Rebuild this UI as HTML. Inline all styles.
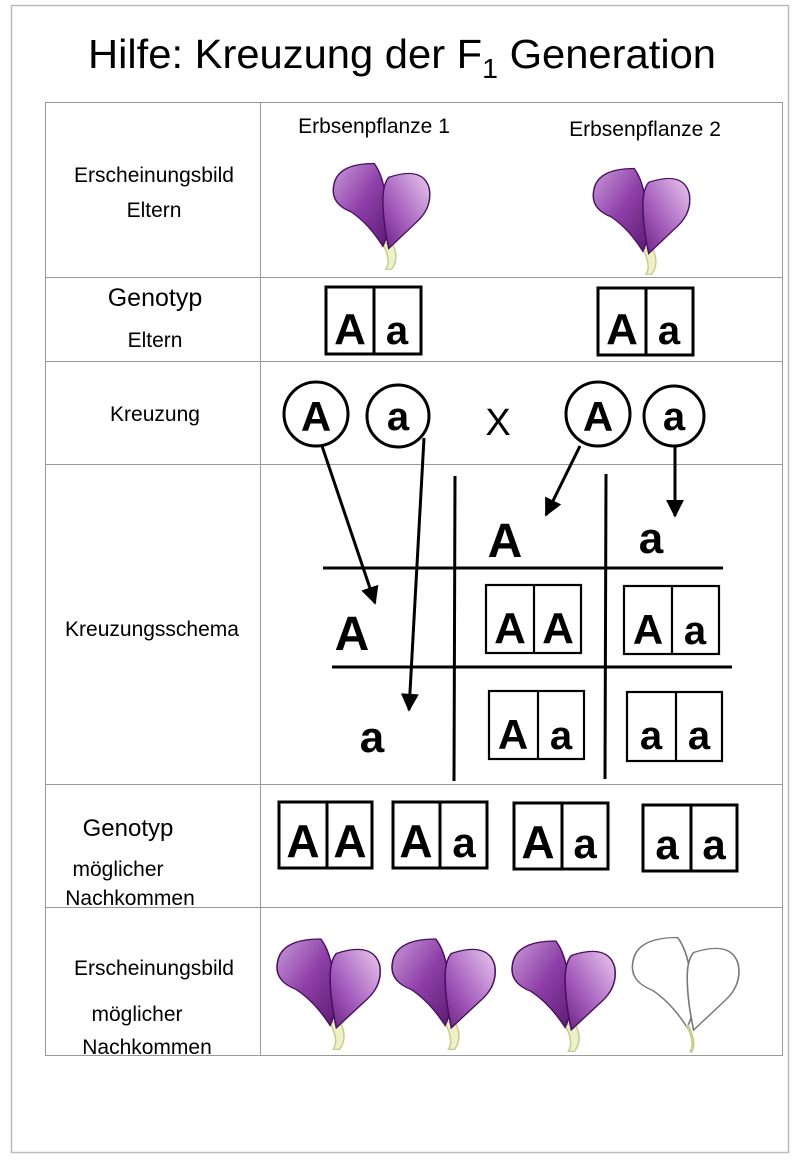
<!DOCTYPE html>
<html><head><meta charset="utf-8"><style>
html,body{margin:0;padding:0;background:#fff;width:800px;height:1161px;overflow:hidden}
svg{display:block}
.lbl{font-family:"Liberation Sans",sans-serif;fill:#000}
.h{font-family:"Liberation Sans",sans-serif;font-weight:bold;fill:#000}
</style></head><body>
<svg width="800" height="1161" viewBox="0 0 800 1161" xmlns="http://www.w3.org/2000/svg">
<defs>
<linearGradient id="pg" x1="0" y1="0" x2="1" y2="1">
<stop offset="0" stop-color="#c99ad8"/><stop offset="0.5" stop-color="#8e3fa8"/><stop offset="1" stop-color="#5a1a70"/>
</linearGradient>
<linearGradient id="pg2" x1="1" y1="0" x2="0" y2="1">
<stop offset="0" stop-color="#e8c9ee"/><stop offset="0.6" stop-color="#a55cbd"/><stop offset="1" stop-color="#6a2182"/>
</linearGradient>
<g id="fl">
<path d="M2,40 Q8,55 4,62 L8,62 Q14,52 8,38 Z" fill="#eef0c8" stroke="#c8cc90" stroke-width="1"/>
<path d="M-4,-30 Q-30,-30 -32,-10 Q-34,5 -20,12 Q-8,22 2,42 Q10,20 4,0 Q2,-20 -4,-30 Z" fill="url(#pg)" stroke="#4a1060" stroke-width="1"/>
<path d="M6,-18 Q30,-28 34,-8 Q36,8 26,20 Q16,32 6,44 Q2,20 2,2 Q2,-12 6,-18 Z" fill="url(#pg2)" stroke="#4a1060" stroke-width="1"/>
</g>
<g id="flw">
<path d="M-4,-30 Q-30,-30 -32,-10 Q-34,5 -20,12 Q-8,22 2,42 Q10,20 4,0 Q2,-20 -4,-30 Z" fill="#fff" stroke="#777" stroke-width="1"/>
<path d="M6,-18 Q30,-28 34,-8 Q36,8 26,20 Q16,32 6,44 Q2,20 2,2 Q2,-12 6,-18 Z" fill="#fff" stroke="#777" stroke-width="1"/>
<path d="M2,40 Q8,55 4,62" fill="none" stroke="#c8cc90" stroke-width="2"/>
</g>
<marker id="ar" viewBox="0 0 10 10" refX="9" refY="5" markerWidth="6" markerHeight="6" orient="auto"><path d="M0,0 L10,5 L0,10 Z" fill="#000"/></marker>
</defs>
<rect x="11.5" y="5.5" width="777" height="1147" fill="none" stroke="#bbb" stroke-width="1.5"/>
<text class="lbl" x="402" y="68" font-size="41" text-anchor="middle" textLength="628" lengthAdjust="spacingAndGlyphs">Hilfe: Kreuzung der F<tspan font-size="28" dy="10">1</tspan><tspan dy="-10"> Generation</tspan></text>

<g stroke="#999" stroke-width="1" fill="none">
<rect x="45.5" y="102.5" width="737" height="953"/>
<line x1="260.5" y1="102" x2="260.5" y2="1055"/>
<line x1="45" y1="277.5" x2="783" y2="277.5"/>
<line x1="45" y1="361.5" x2="783" y2="361.5"/>
<line x1="45" y1="464.5" x2="783" y2="464.5"/>
<line x1="45" y1="784.5" x2="783" y2="784.5"/>
<line x1="45" y1="907.5" x2="783" y2="907.5"/>
</g>

<g class="lbl" font-size="21" text-anchor="middle">
<text x="154" y="182">Erscheinungsbild</text>
<text x="154" y="217">Eltern</text>
<text x="155" y="306" font-size="25">Genotyp</text>
<text x="155" y="347">Eltern</text>
<text x="155" y="421">Kreuzung</text>
<text x="152" y="636">Kreuzungsschema</text>
<text x="128" y="836" font-size="24">Genotyp</text>
<text x="118" y="876" font-size="21">möglicher</text>
<text x="130" y="905" font-size="21">Nachkommen</text>
<text x="154" y="975">Erscheinungsbild</text>
<text x="137" y="1021" font-size="21">möglicher</text>
<text x="147" y="1054" font-size="21">Nachkommen</text>
<text x="374" y="133">Erbsenpflanze 1</text>
<text x="645" y="136">Erbsenpflanze 2</text>
</g>

<use href="#fl" transform="translate(380,198) scale(1.45,1.15)"/>
<use href="#fl" transform="translate(640,203) scale(1.45,1.15)"/>
<use href="#fl" transform="translate(327,975) scale(1.55,1.2)"/>
<use href="#fl" transform="translate(442,975) scale(1.55,1.2)"/>
<use href="#fl" transform="translate(562,977) scale(1.55,1.2)"/>
<use href="#flw" transform="translate(684,975) scale(1.6,1.25)"/>

<g fill="none" stroke="#000" stroke-width="3">
<rect x="326" y="287" width="95" height="67"/><line x1="374" y1="287" x2="374" y2="354"/>
<rect x="598" y="288" width="95" height="67"/><line x1="646" y1="288" x2="646" y2="355"/>
<circle cx="316" cy="414" r="32"/><circle cx="398" cy="416" r="31"/>
<circle cx="598" cy="414" r="32"/><circle cx="674" cy="416" r="30"/>
<line x1="323" y1="568" x2="723" y2="568"/><line x1="332" y1="667" x2="732" y2="667"/>
<line x1="455" y1="476" x2="454" y2="781"/><line x1="606" y1="474" x2="605" y2="779"/>
</g>
<g fill="none" stroke="#000" stroke-width="2.2">
<rect x="486" y="585" width="95" height="68"/><line x1="534" y1="585" x2="534" y2="653"/>
<rect x="624" y="586" width="95" height="68"/><line x1="672" y1="586" x2="672" y2="654"/>
<rect x="489" y="691" width="95" height="68"/><line x1="538" y1="691" x2="538" y2="759"/>
<rect x="627" y="692" width="95" height="69"/><line x1="676" y1="692" x2="676" y2="761"/>
</g>
<g fill="none" stroke="#000" stroke-width="3">
<rect x="279" y="802" width="93" height="66"/><line x1="327" y1="802" x2="327" y2="868"/>
<rect x="393" y="802" width="94" height="66"/><line x1="440" y1="802" x2="440" y2="868"/>
<rect x="514" y="803" width="94" height="66"/><line x1="562" y1="803" x2="562" y2="869"/>
<rect x="643" y="805" width="94" height="66"/><line x1="691" y1="805" x2="691" y2="871"/>
</g>
<g stroke="#000" stroke-width="3" fill="none" marker-end="url(#ar)">
<line x1="322" y1="446" x2="375" y2="603"/>
<line x1="424" y1="438" x2="409" y2="710"/>
<line x1="580" y1="446" x2="546" y2="515"/>
<line x1="675" y1="447" x2="675" y2="516"/>
</g>
<g class="h">
<text x="350" y="344" font-size="44" text-anchor="middle">A</text><text x="397" y="344" font-size="40" text-anchor="middle">a</text>
<text x="622" y="344" font-size="44" text-anchor="middle">A</text><text x="669" y="344" font-size="40" text-anchor="middle">a</text>
<text x="316" y="431" font-size="42" text-anchor="middle">A</text><text x="398" y="430" font-size="40" text-anchor="middle">a</text>
<text x="598" y="431" font-size="42" text-anchor="middle">A</text><text x="674" y="430" font-size="40" text-anchor="middle">a</text>
<text x="498" y="435" font-size="38" font-weight="normal" text-anchor="middle">X</text>
<text x="505" y="557" font-size="48" text-anchor="middle">A</text><text x="651" y="553" font-size="44" text-anchor="middle">a</text>
<text x="352" y="650" font-size="48" text-anchor="middle">A</text><text x="372" y="752" font-size="44" text-anchor="middle">a</text>
<text x="510" y="643" font-size="44" text-anchor="middle">A</text><text x="558" y="643" font-size="44" text-anchor="middle">A</text>
<text x="648" y="644" font-size="42" text-anchor="middle">A</text><text x="695" y="644" font-size="40" text-anchor="middle">a</text>
<text x="513" y="749" font-size="42" text-anchor="middle">A</text><text x="561" y="749" font-size="40" text-anchor="middle">a</text>
<text x="651" y="749" font-size="40" text-anchor="middle">a</text><text x="699" y="749" font-size="40" text-anchor="middle">a</text>
<text x="303" y="857" font-size="46" text-anchor="middle">A</text><text x="350" y="857" font-size="46" text-anchor="middle">A</text>
<text x="416" y="857" font-size="46" text-anchor="middle">A</text><text x="464" y="857" font-size="42" text-anchor="middle">a</text>
<text x="538" y="858" font-size="46" text-anchor="middle">A</text><text x="585" y="858" font-size="42" text-anchor="middle">a</text>
<text x="667" y="859" font-size="42" text-anchor="middle">a</text><text x="714" y="859" font-size="42" text-anchor="middle">a</text>
</g>
</svg>
</body></html>
